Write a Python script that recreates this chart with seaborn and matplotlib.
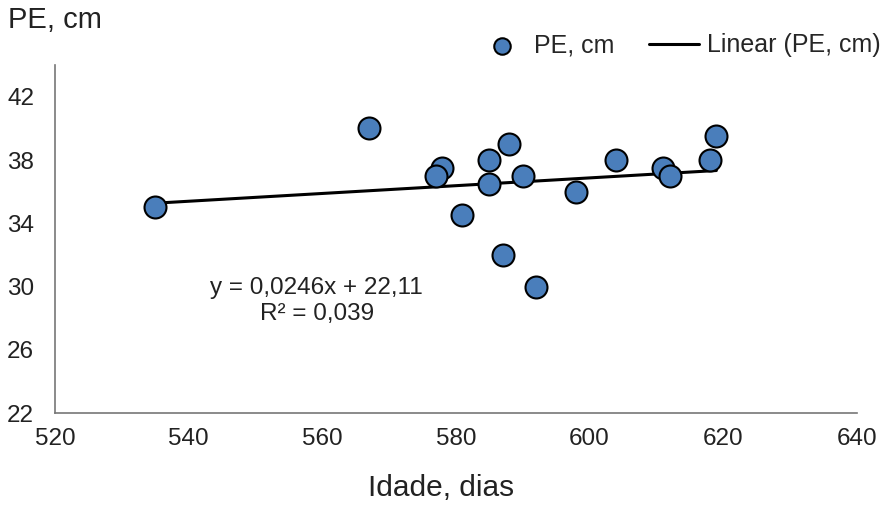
import numpy as np
import pandas as pd
import matplotlib
matplotlib.use('Agg')
import matplotlib.pyplot as plt
import seaborn as sns

# idade (dias) e PE (cm)
idade = [535, 567, 578, 577, 585, 585, 588, 581, 590, 598, 604, 611, 612, 618, 619, 587, 592]
pe = [35.0, 40.0, 37.5, 37.0, 38.0, 36.5, 39.0, 34.5, 37.0, 36.0, 38.0, 37.5, 37.0, 38.0, 39.5, 32.0, 30.0]

# linha de tendencia (como no rotulo do grafico)
slope = 0.0246
intercept = 22.11
eq_label = 'y = 0,0246x + 22,11\nR² = 0,039'

x_ticks = [520, 540, 560, 580, 600, 620, 640]
y_ticks = [22, 26, 30, 34, 38, 42]

df = pd.DataFrame({'idade': idade, 'pe': pe})

sns.set_theme(style='white')
plt.rcParams['font.family'] = ['Liberation Sans', 'DejaVu Sans']

fig = plt.figure(figsize=(8.85, 5.05), dpi=100)
ax = fig.add_axes([0.062, 0.182, 0.906, 0.689])

xs = np.array([min(idade), max(idade)])
ax.plot(xs, slope * xs + intercept, color='black', lw=2.2, zorder=2,
        label='Linear (PE, cm)')
sns.scatterplot(data=df, x='idade', y='pe', ax=ax, s=250, color='#4a7ebb',
                edgecolor='black', linewidth=1.5, zorder=3, label='PE, cm')

ax.set_xlim(520, 640)
ax.set_ylim(22, 44)
ax.set_xticks(x_ticks)
ax.set_yticks(y_ticks)
ax.tick_params(axis='both', length=0, labelsize=17.5, colors='#222222')
ax.tick_params(axis='x', pad=11)
ax.tick_params(axis='y', pad=15)
for side in ['top', 'right']:
    ax.spines[side].set_visible(False)
for side in ['left', 'bottom']:
    ax.spines[side].set_color('#777777')
    ax.spines[side].set_linewidth(1.2)
ax.set_xlabel('')
ax.set_ylabel('')

ax.text(559.2, 29.1, eq_label, ha='center', va='center', fontsize=17.5,
        color='#222222', linespacing=1.22)

fig.text(0.009, 0.96, 'PE, cm', fontsize=21, ha='left', va='center', color='#222222')
fig.text(0.498, 0.034, 'Idade, dias', fontsize=21.5, ha='center', va='center', color='#222222')

handles, labels = ax.get_legend_handles_labels()
order = [labels.index('PE, cm'), labels.index('Linear (PE, cm)')]
ax.legend([handles[i] for i in order], [labels[i] for i in order],
          loc='center right', bbox_to_anchor=(0.995, 0.91), bbox_transform=fig.transFigure,
          ncol=2, frameon=False, fontsize=18, handlelength=2.0, handletextpad=0.3,
          columnspacing=1.4, markerscale=0.75, borderpad=0, borderaxespad=0)

fig.savefig('out.png', dpi=100)
